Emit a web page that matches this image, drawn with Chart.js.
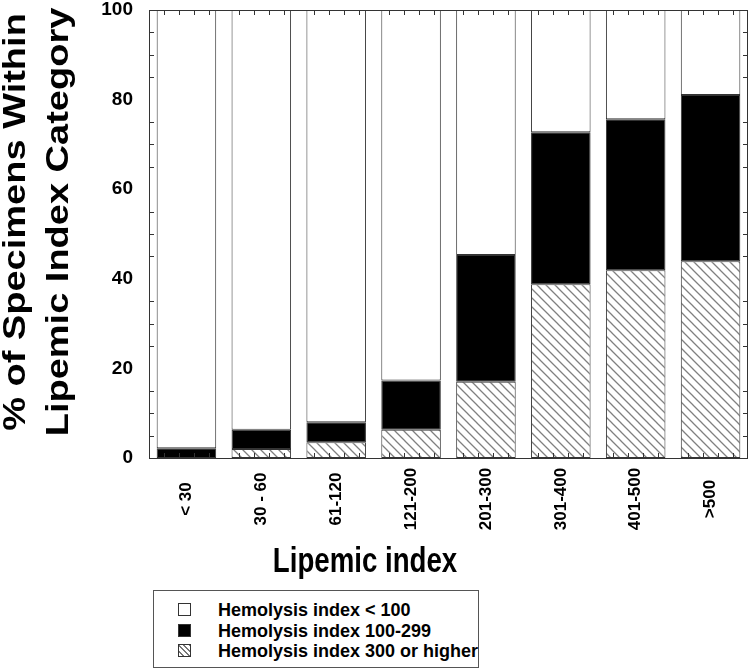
<!DOCTYPE html>
<html>
<head>
<meta charset="utf-8">
<script src="https://cdn.jsdelivr.net/npm/chart.js@4/dist/chart.umd.min.js"></script>
<style>
  body { margin: 0; background: #fff; }
  #wrap { position: relative; width: 750px; height: 670px; }
  #legend {
    position: absolute; left: 153px; top: 590px; width: 324px; height: 76px;
    border: 1px solid #555; background: #fff;
    font: bold 18px "Liberation Sans", Arial, sans-serif; color: #000;
  }
  .row { position: absolute; left: 24px; height: 20px; line-height: 20px; white-space: nowrap; }
  .sw { position: absolute; left: 0; top: 3px; width: 13px; height: 13px; border: 1px solid #333; box-sizing: border-box; }
  .txt { position: absolute; left: 40px; top: 0; }
</style>
</head>
<body>
<div id="wrap">
  <canvas id="lipemic" width="750" height="670"></canvas>
  <div id="legend"></div>
</div>
<script>
// lipemic index categories
const categories = ['< 30', '30 - 60', '61-120', '121-200', '201-300', '301-400', '401-500', '>500'];

// % of specimens per hemolysis group
const hemo300plus = [0, 2.0, 3.5, 6.3, 17.0, 38.8, 41.9, 43.9];
const hemo100to299 = [2.2, 4.3, 4.5, 11.0, 28.3, 33.9, 33.7, 37.1];
const hemoUnder100 = [97.8, 93.7, 92.0, 82.7, 54.7, 27.3, 24.4, 19.0];

const legendLabels = ['Hemolysis index < 100', 'Hemolysis index 100-299', 'Hemolysis index 300 or higher'];

const yTitle = ['% of Specimens Within', 'Lipemic Index Category'];
const xTitle = 'Lipemic index';

const canvas = document.getElementById('lipemic');
const ctx = canvas.getContext('2d');

// diagonal hatch for the 300+ group
function makeHatch() {
  const c = document.createElement('canvas');
  c.width = 9; c.height = 9;
  const g = c.getContext('2d');
  g.fillStyle = '#fff';
  g.fillRect(0, 0, 9, 9);
  g.strokeStyle = '#808080';
  g.lineWidth = 1.3;
  g.beginPath();
  g.moveTo(-1, -1); g.lineTo(10, 10);
  g.moveTo(-1, 8); g.lineTo(1, 10);
  g.moveTo(8, -1); g.lineTo(10, 1);
  g.stroke();
  return ctx.createPattern(c, 'repeat');
}
const hatch = makeHatch();

const boldFont = '"Liberation Sans", Arial, sans-serif';

// frame, inner minor ticks, centered category labels and the condensed axis titles
const framePlugin = {
  id: 'frame',
  afterDatasetsDraw(chart) {
    const { ctx, chartArea: a, scales: { x, y } } = chart;
    ctx.save();
    ctx.strokeStyle = '#333';
    ctx.lineWidth = 1;
    ctx.beginPath();
    for (let v = 5; v < 100; v += 5) {
      if (v % 20 === 0) continue;
      const py = Math.round(y.getPixelForValue(v)) + 0.5;
      ctx.moveTo(a.left, py); ctx.lineTo(a.left + 5, py);
      ctx.moveTo(a.right, py); ctx.lineTo(a.right - 5, py);
    }
    const w = (a.right - a.left) / categories.length;
    categories.forEach((c, i) => {
      for (let k = 1; k < 5; k++) {
        const px = Math.round(x.getPixelForValue(i) - w / 2 + k * w / 5) + 0.5;
        ctx.moveTo(px, a.top); ctx.lineTo(px, a.top + 5);
        ctx.moveTo(px, a.bottom); ctx.lineTo(px, a.bottom - 5);
      }
    });
    ctx.stroke();
    ctx.strokeRect(Math.round(a.left) + 0.5, Math.round(a.top) + 0.5,
      Math.round(a.right - a.left) - 1, Math.round(a.bottom - a.top));

    ctx.fillStyle = '#000';
    ctx.font = 'bold 17px ' + boldFont;
    ctx.textAlign = 'center';
    ctx.textBaseline = 'middle';
    categories.forEach((c, i) => {
      ctx.save();
      ctx.translate(x.getPixelForValue(i), a.bottom + 41);
      ctx.rotate(-Math.PI / 2);
      ctx.fillText(c, 0, 0);
      ctx.restore();
    });

    // x title
    ctx.textBaseline = 'alphabetic';
    ctx.save();
    ctx.translate(365, a.bottom + 114);
    ctx.scale(0.79, 1);
    ctx.font = 'bold 35px ' + boldFont;
    ctx.fillText(xTitle, 0, 0);
    ctx.restore();

    // y title, two lines
    ctx.save();
    ctx.translate(0, 222);
    ctx.rotate(-Math.PI / 2);
    ctx.scale(1, 0.82);
    ctx.font = 'bold 38px ' + boldFont;
    ctx.fillText(yTitle[0], 0, 30.5);
    ctx.fillText(yTitle[1], 0, 83);
    ctx.restore();
    ctx.restore();
  }
};

const barStyle = {
  borderColor: '#333',
  borderWidth: 1,
  borderSkipped: false,
  categoryPercentage: 1,
  barPercentage: 0.795
};

const chart = new Chart(canvas, {
  type: 'bar',
  data: {
    labels: categories,
    datasets: [
      Object.assign({ label: legendLabels[2], data: hemo300plus, backgroundColor: hatch }, barStyle),
      Object.assign({ label: legendLabels[1], data: hemo100to299, backgroundColor: '#000' }, barStyle),
      Object.assign({ label: legendLabels[0], data: hemoUnder100, backgroundColor: '#fff' }, barStyle)
    ]
  },
  options: {
    responsive: false,
    animation: false,
    devicePixelRatio: 1,
    layout: { padding: { top: 10, right: 2, bottom: 80, left: 0 } },
    plugins: {
      legend: { display: false },
      tooltip: { enabled: false }
    },
    scales: {
      x: {
        stacked: true,
        grid: { display: false, drawTicks: false },
        border: { display: false },
        ticks: { display: false },
        afterFit: (s) => { s.height = 132; s.paddingLeft = 0; s.paddingRight = 0; }
      },
      y: {
        stacked: true,
        min: 0,
        max: 100,
        grid: { display: false, drawTicks: false },
        border: { display: false },
        ticks: {
          stepSize: 20,
          padding: 16,
          color: '#000',
          font: { family: boldFont, size: 19, weight: 'bold' }
        },
        afterFit: (s) => { s.width = 149; s.paddingTop = 0; s.paddingBottom = 0; }
      }
    }
  },
  plugins: [framePlugin]
});

// legend box (white, black, hatched)
const swatches = [
  'background:#fff',
  'background:#000',
  'background:repeating-linear-gradient(45deg,#fff 0 2.5px,#777 2.5px 4px)'
];
const legend = document.getElementById('legend');
legendLabels.forEach((t, i) => {
  const row = document.createElement('div');
  row.className = 'row';
  row.style.top = (9 + i * 20.5) + 'px';
  row.innerHTML = '<span class="sw" style="' + swatches[i] + '"></span><span class="txt"></span>';
  row.querySelector('.txt').textContent = t;
  legend.appendChild(row);
});
</script>
</body>
</html>
